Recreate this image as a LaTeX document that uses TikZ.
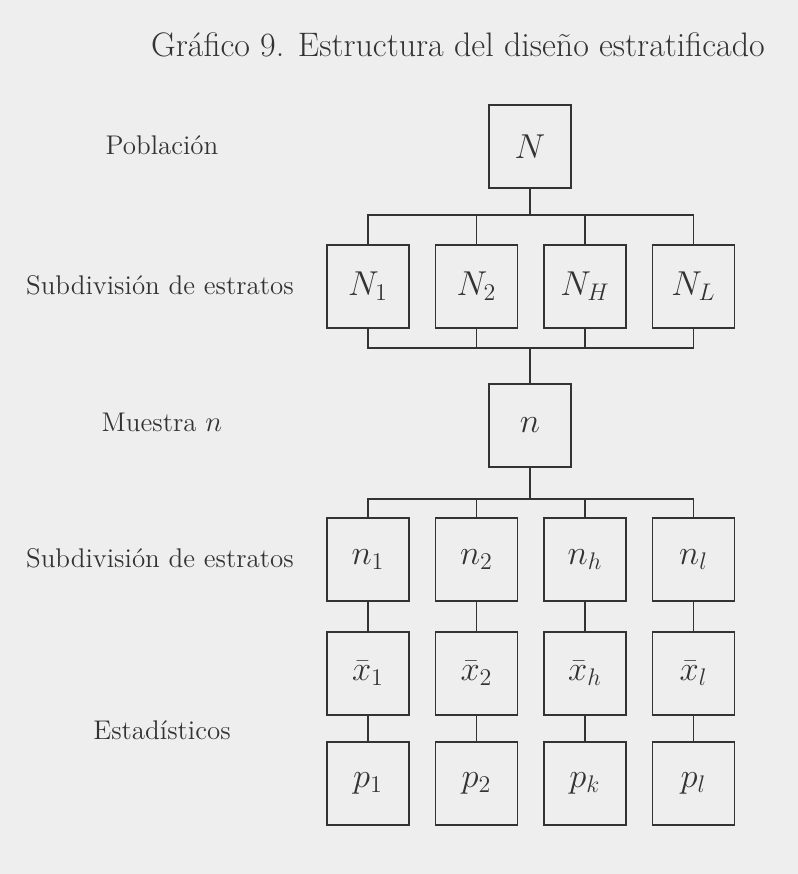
\documentclass[tikz,border=0pt]{standalone}
\usepackage{tikz}
\usetikzlibrary{positioning}
\definecolor{ink}{HTML}{333333}
\definecolor{paper}{HTML}{EEEEEE}
\tikzstyle{cell} = [draw=ink, line width=0.8pt,
                    rectangle, minimum width=41pt,
                    minimum height=41.5pt, inner sep=0pt,
                    text=ink, font=\fontsize{17}{20}\selectfont]
\tikzstyle{rowlabel} = [text=ink, font=\fontsize{13.5}{16}\selectfont]
\tikzstyle{caption} = [rowlabel, font=\fontsize{17}{20}\selectfont]
\tikzstyle{link} = [draw=ink, line width=0.8pt]

\begin{document}
\begin{tikzpicture}[x=0.5pt, y=-0.5pt]%
  \fill[paper] (0,0) rectangle (798,874);
  \useasboundingbox (0,0) rectangle (798,874);
  \node[caption] (title) at (458,45)
    {Gráfico 9. Estructura del diseño estratificado};
  % row labels
  \node[rowlabel] (lpob) at (162,145) {Población};
  \node[rowlabel] (lsubA) at (160,285) {Subdivisión de estratos};
  \node[rowlabel] (lmue) at (162,422) {Muestra $n$};
  \node[rowlabel] (lsubB) at (160,558) {Subdivisión de estratos};
  \node[rowlabel] (lest) at (162,730) {Estadísticos};
  % population and strata
  \node[cell] (N) at (530,146.5) {$N$};
  \node[cell] (N1) at (368,286.5) {$N_1$};
  \node[cell] (N2) at (476.5,286.5) {$N_2$};
  \node[cell] (NH) at (585,286.5) {$N_H$};
  \node[cell] (NL) at (693.5,286.5) {$N_L$};
  % sample
  \node[cell] (n) at (530,425.5) {$n$};
  \node[cell] (n1) at (368,559.5) {$n_1$};
  \node[cell] (n2) at (476.5,559.5) {$n_2$};
  \node[cell] (nh) at (585,559.5) {$n_h$};
  \node[cell] (nl) at (693.5,559.5) {$n_l$};
  % statistics
  \node[cell] (x1) at (368,673.5) {$\bar{x}_1$};
  \node[cell] (x2) at (476.5,673.5) {$\bar{x}_2$};
  \node[cell] (xh) at (585,673.5) {$\bar{x}_h$};
  \node[cell] (xl) at (693.5,673.5) {$\bar{x}_l$};
  \node[cell] (p1) at (368,783.5) {$p_1$};
  \node[cell] (p2) at (476.5,783.5) {$p_2$};
  \node[cell] (pk) at (585,783.5) {$p_k$};
  \node[cell] (pl) at (693.5,783.5) {$p_l$};
  % connectors
  \coordinate (busA) at (530,215);
  \coordinate (busB) at (530,348);
  \coordinate (busC) at (530,499);
  \draw[link] (N) -- (busA);
  \draw[link] (N1) |- (busA) -| (NL);
  \draw[link] (N2) -- (N2 |- busA);
  \draw[link] (NH) -- (NH |- busA);
  \draw[link] (N1) |- (busB) -| (NL);
  \draw[link] (N2) -- (N2 |- busB);
  \draw[link] (NH) -- (NH |- busB);
  \draw[link] (busB) -- (n);
  \draw[link] (n) -- (busC);
  \draw[link] (n1) |- (busC) -| (nl);
  \draw[link] (n2) -- (n2 |- busC);
  \draw[link] (nh) -- (nh |- busC);
  \draw[link] (n1) -- (x1) -- (p1);
  \draw[link] (n2) -- (x2) -- (p2);
  \draw[link] (nh) -- (xh) -- (pk);
  \draw[link] (nl) -- (xl) -- (pl);
\end{tikzpicture}
\end{document}
